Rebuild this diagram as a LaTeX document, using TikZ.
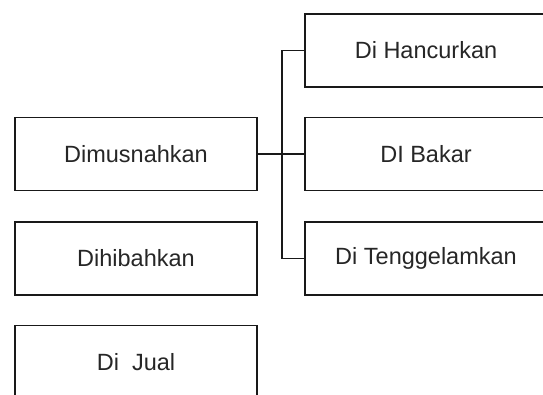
\documentclass[tikz,border=0pt]{standalone}
\usepackage{fontspec}
\setmainfont{Liberation Sans}
\begin{document}
\begin{tikzpicture}[x=1pt,y=1pt,
  box/.style={draw=black!90,line width=1.6pt,minimum width=242pt,minimum height=73pt,inner sep=0pt,font=\fontsize{23.5}{27}\selectfont,text=black!85},
  link/.style={draw=black!90,line width=1.2pt}]
\clip (0,0) rectangle (543,-394);
\useasboundingbox (0,0) rectangle (543,-394);
\node[box] (dim) at (136,-154) {\raisebox{-1pt}{Dimusnahkan}};
\node[box] (dih) at (136,-258.5) {\raisebox{-1pt}{Dihibahkan}};
\node[box] (jual) at (136,-362) {\raisebox{-1pt}{Di\ \ Jual}};
\node[box] (han) at (426,-50.5) {\raisebox{-1pt}{Di Hancurkan}};
\node[box] (bak) at (426,-154) {\raisebox{-1pt}{DI Bakar}};
\node[box] (ten) at (426,-258.5) {\raisebox{-1pt}{Di Tenggelamkan}};
\coordinate (bus) at (282,-154);
\draw[link] (dim.east) -- (bak.west);
\draw[link] (han.west) -| (bus) |- (ten.west);
\end{tikzpicture}
\end{document}
